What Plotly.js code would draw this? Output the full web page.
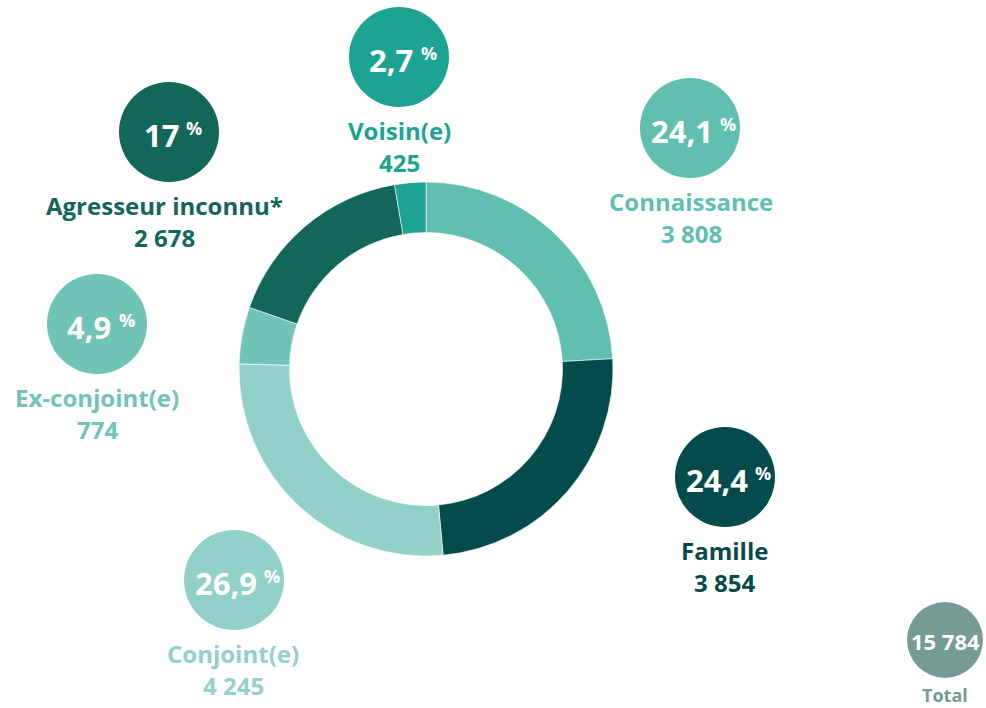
<!DOCTYPE html>
<html>
<head>
<meta charset="utf-8">
<script src="https://cdn.plot.ly/plotly-3.0.1.min.js"></script>
<style>html,body{margin:0;padding:0;background:#fff;}</style>
</head>
<body>
<div id="chart" style="width:986px;height:708px;"></div>
<script>
const categories = ["Connaissance", "Famille", "Conjoint(e)", "Ex-conjoint(e)", "Agresseur inconnu*", "Voisin(e)"];
const counts = [3808, 3854, 4245, 774, 2678, 425];
const countLabels = ["3 808", "3 854", "4 245", "774", "2 678", "425"];
const percentLabels = ["24,1", "24,4", "26,9", "4,9", "17", "2,7"];
const colors = ["#60bfb0", "#044b4b", "#92d0ca", "#70c4b7", "#13665a", "#1ca391"];
const totalLabel = "15 784";
const totalText = "Total";

// bubble positions (pixels) for each category: layout only
const bubbleX = [690, 725, 234, 97, 169, 399];
const bubbleY = [128, 477, 580, 324, 132, 57];
const labelX = [691, 724, 233, 97, 164, 399];
const R = 50;
const FAMILY = "'Open Sans', Lato, sans-serif";
const NUM_SIZE = 31, PCT_SIZE = 18, LBL_SIZE = 24;

function measure(text, size, weight) {
  const c = document.createElement("canvas").getContext("2d");
  c.font = weight + " " + size + "px 'Open Sans'";
  return c.measureText(text).width;
}

function draw() {
  const shapes = [];
  const annotations = [];
  for (let i = 0; i < categories.length; i++) {
    shapes.push({type: "circle", xref: "x", yref: "y", x0: bubbleX[i] - R, x1: bubbleX[i] + R,
      y0: bubbleY[i] - R, y1: bubbleY[i] + R, fillcolor: colors[i], line: {width: 0}});
    const numW = measure(percentLabels[i], NUM_SIZE, 700);
    const pctW = measure("%", PCT_SIZE, 700);
    const gap = 7;
    const start = bubbleX[i] - (numW + gap + pctW) / 2 + 2;
    annotations.push({xref: "x", yref: "y", x: start, y: bubbleY[i] + 3, xanchor: "left", yanchor: "middle",
      showarrow: false, text: percentLabels[i],
      font: {family: FAMILY, size: NUM_SIZE, weight: 700, color: "#ffffff"}});
    annotations.push({xref: "x", yref: "y", x: start + numW + gap, y: bubbleY[i] - 4, xanchor: "left", yanchor: "middle",
      showarrow: false, text: "%",
      font: {family: FAMILY, size: PCT_SIZE, weight: 700, color: "#ffffff"}});
    annotations.push({xref: "x", yref: "y", x: labelX[i], y: bubbleY[i] + 73, showarrow: false,
      text: categories[i], font: {family: FAMILY, size: LBL_SIZE, weight: 700, color: colors[i]}});
    annotations.push({xref: "x", yref: "y", x: labelX[i], y: bubbleY[i] + 105, showarrow: false,
      text: countLabels[i], font: {family: FAMILY, size: LBL_SIZE, weight: 700, color: colors[i]}});
  }
  shapes.push({type: "circle", xref: "x", yref: "y", x0: 945 - 38, x1: 945 + 38, y0: 640 - 38, y1: 640 + 38,
    fillcolor: "#769b94", line: {width: 0}});
  annotations.push({xref: "x", yref: "y", x: 945, y: 641, showarrow: false,
    text: totalLabel, font: {family: FAMILY, size: 22, weight: 700, color: "#ffffff"}});
  annotations.push({xref: "x", yref: "y", x: 945, y: 695, showarrow: false, borderpad: 0,
    text: totalText, font: {family: FAMILY, size: 18, weight: 700, color: "#769b94"}});

  const cx = 426, cy = 369, outerR = 187;
  const data = [{
    type: "pie",
    labels: categories,
    values: counts,
    sort: false,
    direction: "clockwise",
    rotation: 0,
    hole: 0.73,
    textinfo: "none",
    hoverinfo: "none",
    marker: {colors: colors, line: {color: "#ffffff", width: 0.6}},
    domain: {x: [(cx - outerR) / 986, (cx + outerR) / 986], y: [1 - (cy + outerR) / 708, 1 - (cy - outerR) / 708]},
    showlegend: false
  }];

  const layout = {
    width: 986, height: 708,
    margin: {l: 0, r: 0, t: 0, b: 0},
    paper_bgcolor: "#ffffff", plot_bgcolor: "rgba(0,0,0,0)",
    showlegend: false,
    xaxis: {range: [0, 986], visible: false, fixedrange: true},
    yaxis: {range: [708, 0], visible: false, fixedrange: true},
    shapes: shapes,
    annotations: annotations
  };
  Plotly.newPlot("chart", data, layout, {displayModeBar: false, staticPlot: true});
}

if (document.fonts && document.fonts.load) {
  document.fonts.load("700 28px 'Open Sans'").then(draw, draw);
} else {
  draw();
}
</script>
</body>
</html>
